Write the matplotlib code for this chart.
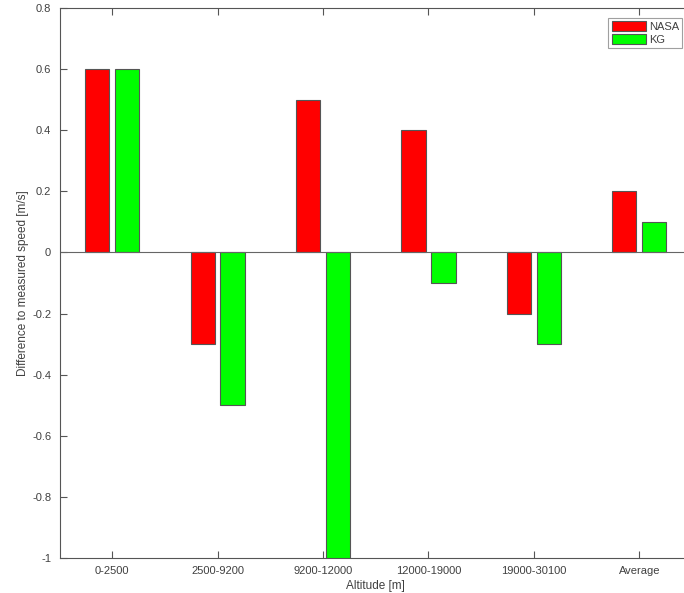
import numpy as np
import matplotlib
matplotlib.use('Agg')
import matplotlib.pyplot as plt

plt.rcParams['font.family'] = ['Liberation Sans', 'DejaVu Sans']

# speed differences per altitude band
altitudes = ['0-2500', '2500-9200', '9200-12000', '12000-19000', '19000-30100', 'Average']
nasa = [0.6, -0.3, 0.5, 0.4, -0.2, 0.2]
kg = [0.6, -0.5, -1.2, -0.1, -0.3, 0.1]

axis_col = '#555555'
text_col = '#404040'

fig = plt.figure(figsize=(6.84, 5.93), dpi=100)
ax = fig.add_axes([59.5 / 684, 35 / 593, 632.5 / 684, 550 / 593])

x = np.arange(1, len(altitudes) + 1)
w = 0.23
off = 0.142
ax.bar(x - off, nasa, w, color='#ff0000', edgecolor='#555555', linewidth=0.8, label='NASA')
ax.bar(x + off, kg, w, color='#00ff00', edgecolor='#555555', linewidth=0.8, label='KG')
ax.axhline(0, color='#666666', linewidth=0.8)

ax.set_xlim(0.5, 6.5)
ax.set_ylim(-1, 0.8)
ax.set_xticks(x)
ax.set_xticklabels(altitudes)
ax.set_yticks(np.arange(-1, 0.81, 0.2))
ax.set_yticklabels(['-1', '-0.8', '-0.6', '-0.4', '-0.2', '0', '0.2', '0.4', '0.6', '0.8'])

ax.tick_params(direction='in', length=5, width=0.8, colors=axis_col, labelcolor=text_col,
               labelsize=8, top=True, right=True, pad=6)
for s in ax.spines.values():
    s.set_color(axis_col)
    s.set_linewidth(0.8)

ax.set_xlabel('Altitude [m]', fontsize=8.5, color=text_col, labelpad=3)
ax.set_ylabel('Difference to measured speed [m/s]', fontsize=8.5, color=text_col, labelpad=2)

leg = ax.legend(loc='upper right', bbox_to_anchor=(623 / 632.5, 0.982), fontsize=8,
                frameon=True, fancybox=False, edgecolor='#888888', handlelength=3.1,
                handleheight=1.0, handletextpad=0.25, borderpad=0.3, labelspacing=0.2,
                borderaxespad=0)
leg.get_frame().set_linewidth(0.8)
for t in leg.get_texts():
    t.set_color(text_col)

fig.savefig('out.png', dpi=100)
